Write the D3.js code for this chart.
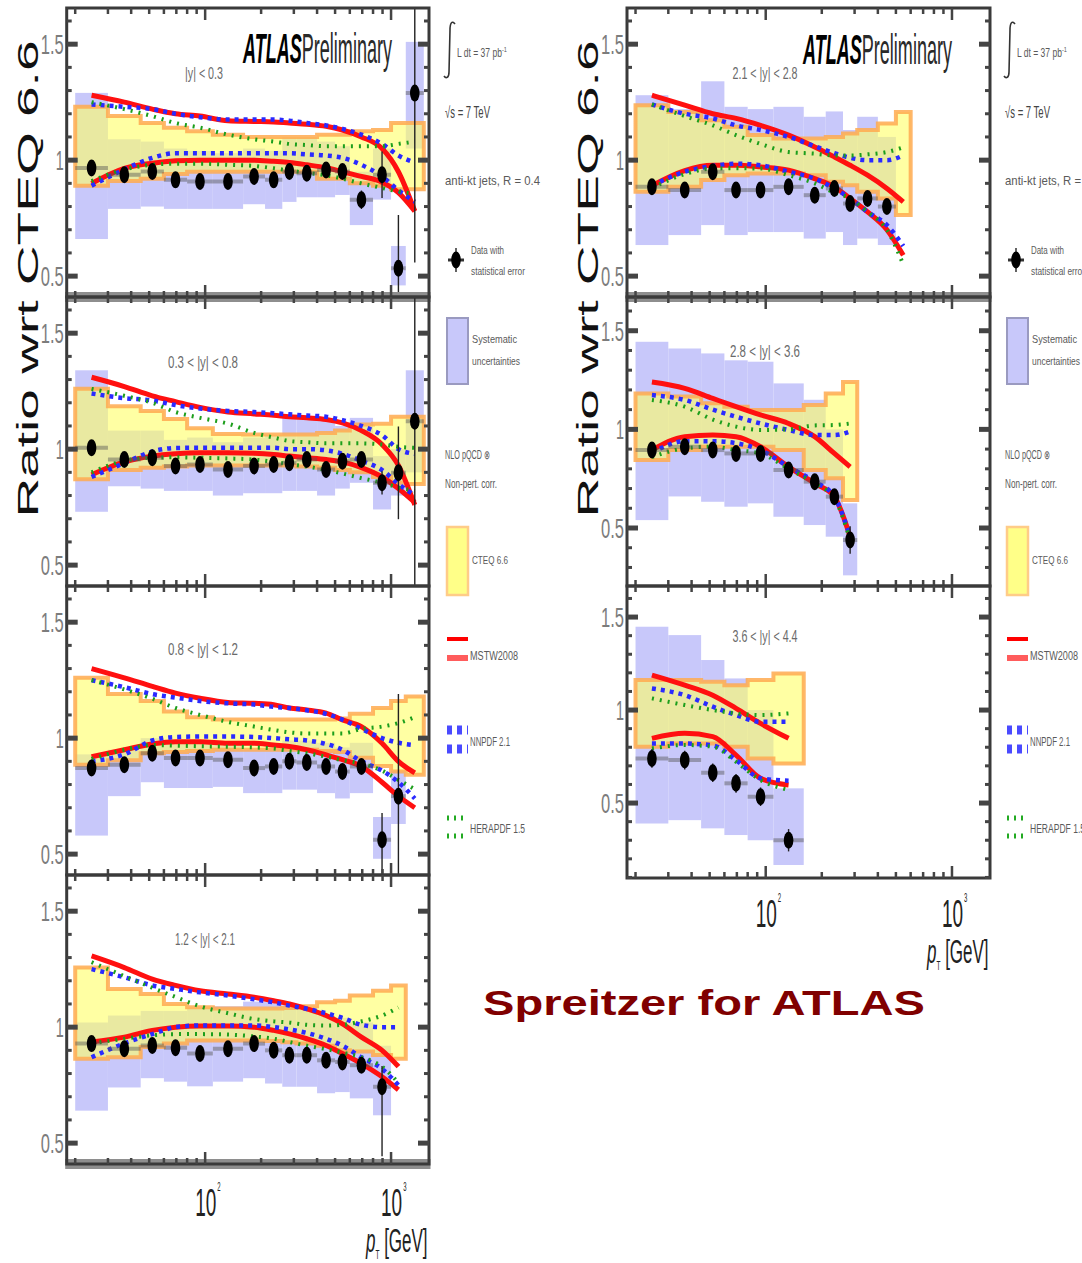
<!DOCTYPE html>
<html>
<head>
<meta charset="utf-8">
<script src="https://cdn.jsdelivr.net/npm/d3@7"></script>
<style>
body { margin:0; background:#fff; }
svg { display:block; font-family:"Liberation Sans", Arial, sans-serif; }
</style>
</head>
<body>
<svg id="chart" width="1082" height="1263"></svg>
<script>
//---------data---------
var binEdges = [20,30,45,60,80,110,160,210,260,310,400,500,600,800,1000,1200,1500];
var rapLabels = ["|y| < 0.3","0.3 < |y| < 0.8","0.8 < |y| < 1.2","1.2 < |y| < 2.1",
                 "2.1 < |y| < 2.8","2.8 < |y| < 3.6","3.6 < |y| < 4.4"];

// data / CTEQ 6.6, one list per rapidity bin
var ratio = [
  [0.966,0.937,0.951,0.915,0.908,0.908,0.93,0.915,0.951,0.944,0.958,0.951,0.829,0.937,0.534,1.289],
  [1.006,0.955,0.963,0.927,0.934,0.912,0.927,0.934,0.941,0.955,0.912,0.948,0.955,0.855,0.898,1.12],
  [0.871,0.885,0.935,0.914,0.914,0.907,0.871,0.878,0.90,0.895,0.878,0.856,0.878,0.562,0.75],
  [0.929,0.907,0.921,0.911,0.886,0.907,0.929,0.90,0.879,0.879,0.857,0.85,0.836,0.743],
  [0.885,0.871,0.95,0.871,0.871,0.885,0.849,0.878,0.813,0.835,0.80],
  [0.895,0.912,0.895,0.878,0.878,0.794,0.735,0.659,0.439],
  [0.74,0.731,0.663,0.606,0.534,0.30]
];
var statUp = [
  [0.03,0.025,0.025,0.025,0.025,0.025,0.025,0.025,0.025,0.025,0.03,0.03,0.04,0.1,0.23,0.8],
  [0.03,0.025,0.025,0.025,0.025,0.025,0.025,0.025,0.025,0.025,0.03,0.03,0.03,0.05,0.2,0.75],
  [0.03,0.025,0.025,0.025,0.025,0.025,0.025,0.025,0.025,0.025,0.03,0.03,0.03,0.115,0.44],
  [0.03,0.025,0.025,0.025,0.025,0.025,0.025,0.025,0.025,0.025,0.03,0.03,0.03,0.09],
  [0.03,0.03,0.03,0.03,0.03,0.03,0.03,0.03,0.03,0.03,0.03],
  [0.03,0.03,0.03,0.03,0.03,0.03,0.03,0.03,0.07],
  [0.05,0.05,0.05,0.05,0.05,0.06]
];
var statDn = [
  [0.03,0.025,0.025,0.025,0.025,0.025,0.025,0.025,0.025,0.025,0.03,0.03,0.04,0.1,0.3,0.73],
  [0.03,0.025,0.025,0.025,0.025,0.025,0.025,0.025,0.025,0.025,0.03,0.03,0.03,0.05,0.2,0.75],
  [0.03,0.025,0.025,0.025,0.025,0.025,0.025,0.025,0.025,0.025,0.03,0.03,0.03,0.2,0.45],
  [0.03,0.025,0.025,0.025,0.025,0.025,0.025,0.025,0.025,0.025,0.03,0.03,0.03,0.3],
  [0.03,0.03,0.03,0.03,0.03,0.03,0.03,0.03,0.03,0.03,0.03],
  [0.03,0.03,0.03,0.03,0.03,0.03,0.03,0.03,0.07],
  [0.05,0.05,0.05,0.05,0.05,0.06]
];
var sysLo = [
  [0.66,0.79,0.80,0.79,0.79,0.79,0.81,0.79,0.82,0.84,0.84,0.85,0.72,0.83,0.46,1.05],
  [0.73,0.84,0.83,0.82,0.82,0.80,0.81,0.81,0.82,0.82,0.80,0.83,0.855,0.74,0.80,0.90],
  [0.58,0.75,0.81,0.785,0.785,0.79,0.763,0.763,0.778,0.778,0.763,0.74,0.763,0.48,0.63],
  [0.64,0.74,0.78,0.765,0.745,0.765,0.78,0.757,0.743,0.743,0.715,0.72,0.693,0.62],
  [0.634,0.677,0.72,0.677,0.69,0.69,0.662,0.69,0.634,0.662,0.634],
  [0.54,0.66,0.633,0.608,0.625,0.557,0.515,0.456,0.26],
  [0.39,0.408,0.364,0.328,0.30,0.167]
];
var sysHi = [
  [1.29,1.09,1.08,1.05,1.04,1.03,1.05,1.04,1.10,1.10,1.08,1.06,0.95,1.05,0.63,1.51],
  [1.34,1.08,1.08,1.04,1.05,1.03,1.05,1.06,1.135,1.135,1.135,1.10,1.135,0.97,1.0,1.34],
  [0.93,0.95,1.0,0.99,0.99,0.98,0.95,0.96,0.99,0.99,0.98,0.96,0.98,0.66,0.86],
  [1.02,1.05,1.07,1.07,1.08,1.09,1.11,1.11,1.10,1.08,1.05,1.04,1.02,0.92],
  [1.28,1.22,1.34,1.23,1.22,1.23,1.187,1.21,1.13,1.187,1.10],
  [1.444,1.41,1.385,1.35,1.343,1.233,1.15,1.0,0.625],
  [1.448,1.403,1.269,1.17,1.0,0.579]
];
// CTEQ 6.6 uncertainty band
var cteqLo = [
  [0.89,0.91,0.92,0.94,0.95,0.95,0.95,0.95,0.95,0.95,0.92,0.92,0.90,0.89,0.875,0.875],
  [0.87,0.91,0.92,0.925,0.93,0.93,0.93,0.93,0.93,0.925,0.92,0.91,0.90,0.88,0.855,0.85],
  [0.885,0.905,0.935,0.94,0.945,0.95,0.95,0.95,0.95,0.95,0.945,0.94,0.915,0.88,0.856,0.842],
  [0.864,0.87,0.914,0.93,0.943,0.943,0.943,0.94,0.935,0.93,0.92,0.90,0.895,0.88,0.864],
  [0.864,0.885,0.914,0.935,0.943,0.943,0.935,0.907,0.892,0.864,0.835,0.763],
  [0.845,0.895,0.912,0.912,0.912,0.895,0.794,0.752,0.642],
  [0.803,0.82,0.82,0.803,0.74,0.713]
];
var cteqHi = [
  [1.23,1.19,1.16,1.14,1.125,1.11,1.10,1.10,1.10,1.10,1.11,1.11,1.125,1.13,1.16,1.16],
  [1.26,1.185,1.165,1.13,1.09,1.065,1.063,1.063,1.063,1.063,1.07,1.08,1.106,1.11,1.14,1.14],
  [1.26,1.19,1.16,1.115,1.09,1.08,1.08,1.08,1.08,1.08,1.08,1.085,1.105,1.13,1.16,1.18],
  [1.257,1.165,1.143,1.10,1.086,1.08,1.08,1.08,1.083,1.09,1.107,1.114,1.136,1.157,1.18],
  [1.237,1.208,1.172,1.144,1.108,1.093,1.093,1.10,1.115,1.13,1.158,1.208],
  [1.182,1.166,1.132,1.115,1.098,1.098,1.123,1.182,1.24],
  [1.161,1.161,1.152,1.134,1.161,1.197]
];
// other PDF sets, upper and lower edge of their band
var mstwUp = [
  [1.28,1.25,1.22,1.20,1.19,1.17,1.167,1.165,1.16,1.155,1.146,1.13,1.10,1.05,0.95,0.78],
  [1.31,1.27,1.23,1.205,1.18,1.16,1.152,1.146,1.14,1.135,1.128,1.113,1.08,1.02,0.93,0.76],
  [1.30,1.26,1.223,1.194,1.172,1.154,1.15,1.144,1.13,1.122,1.108,1.079,1.05,0.978,0.90,0.85],
  [1.307,1.257,1.207,1.18,1.157,1.143,1.129,1.114,1.10,1.079,1.05,1.014,0.957,0.90,0.83],
  [1.28,1.237,1.2,1.18,1.15,1.108,1.057,1.014,0.978,0.935,0.878,0.82],
  [1.24,1.208,1.157,1.115,1.073,1.03,0.963,0.878,0.81],
  [1.188,1.134,1.08,1.009,0.928,0.848]
];
var mstwLo = [
  [0.90,0.965,0.987,0.997,1.0,1.0,1.0,0.995,0.99,0.98,0.967,0.95,0.93,0.905,0.86,0.78],
  [0.89,0.945,0.97,0.98,0.984,0.984,0.982,0.977,0.97,0.963,0.955,0.945,0.92,0.88,0.83,0.77],
  [0.92,0.95,0.975,0.985,0.985,0.978,0.978,0.97,0.964,0.95,0.928,0.907,0.878,0.81,0.75,0.70],
  [0.936,0.957,0.986,1.0,1.005,1.005,1.0,0.986,0.971,0.95,0.921,0.886,0.843,0.786,0.73],
  [0.89,0.955,0.978,0.978,0.971,0.957,0.92,0.885,0.835,0.777,0.70,0.59],
  [0.895,0.963,0.971,0.963,0.912,0.81,0.726,0.659,0.456],
  [0.848,0.875,0.857,0.758,0.633,0.597]
];
var nnpdfUp = [
  [1.24,1.23,1.22,1.20,1.185,1.175,1.175,1.175,1.17,1.16,1.15,1.135,1.11,1.07,1.02,0.99],
  [1.24,1.22,1.21,1.19,1.175,1.165,1.16,1.155,1.15,1.145,1.14,1.125,1.10,1.06,1.0,0.98],
  [1.25,1.22,1.19,1.175,1.16,1.15,1.145,1.135,1.13,1.12,1.105,1.08,1.04,1.0,0.98,0.97],
  [1.25,1.215,1.18,1.165,1.15,1.136,1.12,1.107,1.093,1.079,1.06,1.04,1.01,1.0,1.0],
  [1.24,1.2,1.18,1.15,1.13,1.10,1.06,1.03,1.01,1.0,1.0,1.02],
  [1.174,1.149,1.1,1.064,1.03,0.997,0.971,0.971,0.99],
  [1.116,1.08,1.018,0.973,0.937,0.937]
];
var nnpdfLo = [
  [0.89,0.96,1.01,1.03,1.03,1.03,1.03,1.03,1.03,1.025,1.02,1.01,0.98,0.93,0.87,0.82],
  [0.88,0.94,0.99,1.005,1.006,1.006,1.006,1.006,1.0,1.0,0.995,0.98,0.95,0.91,0.85,0.80],
  [0.90,0.93,0.99,1.005,1.007,1.007,1.005,1.0,0.995,0.99,0.975,0.95,0.90,0.86,0.81,0.74],
  [0.87,0.93,0.97,1.0,1.007,1.007,1.007,1.0,0.99,0.975,0.95,0.92,0.87,0.82,0.75],
  [0.89,0.95,0.975,0.985,0.978,0.95,0.92,0.878,0.835,0.777,0.72,0.63],
  [0.88,0.94,0.94,0.93,0.895,0.81,0.735,0.659,0.456],
  [0.82,0.82,0.81,0.731,0.633,0.62]
];
var heraUp = [
  [1.25,1.22,1.19,1.16,1.14,1.11,1.09,1.08,1.07,1.065,1.06,1.06,1.06,1.06,1.07,1.08],
  [1.26,1.23,1.2,1.16,1.135,1.11,1.07,1.05,1.035,1.03,1.025,1.025,1.025,1.02,1.01,1.006],
  [1.25,1.21,1.17,1.13,1.10,1.07,1.05,1.035,1.025,1.02,1.02,1.02,1.04,1.05,1.065,1.09],
  [1.28,1.22,1.17,1.13,1.09,1.06,1.035,1.025,1.02,1.01,1.007,1.01,1.025,1.05,1.085],
  [1.24,1.19,1.15,1.108,1.07,1.035,1.028,1.02,1.02,1.025,1.035,1.055],
  [1.149,1.115,1.05,1.014,0.997,1.0,1.02,1.022,1.03],
  [1.063,1.027,1.0,0.982,0.973,0.982]
];
var heraLo = [
  [0.91,0.96,0.98,0.985,0.985,0.98,0.975,0.965,0.955,0.945,0.935,0.92,0.90,0.88,0.865,0.855],
  [0.90,0.95,0.963,0.965,0.963,0.96,0.955,0.945,0.935,0.925,0.91,0.895,0.875,0.855,0.835,0.82],
  [0.91,0.95,0.97,0.968,0.965,0.963,0.96,0.955,0.945,0.935,0.92,0.905,0.89,0.86,0.82,0.78],
  [0.93,0.95,0.965,0.97,0.97,0.968,0.96,0.95,0.936,0.92,0.905,0.89,0.87,0.83,0.76],
  [0.88,0.94,0.964,0.965,0.964,0.935,0.90,0.86,0.835,0.777,0.70,0.55],
  [0.86,0.904,0.912,0.895,0.878,0.8,0.726,0.65,0.44],
  [0.794,0.812,0.803,0.722,0.624,0.57]
];

//---------layout---------
var colX = [[66.7,429],[627,990]];
var panels = [
  {col:0, top:8,   bottom:297,  yDom:[0.41,1.656],  lx:204, ly:79,  lw:38, band:true},
  {col:0, top:297, bottom:586,  yDom:[0.41,1.656],  lx:203, ly:368, lw:70, band:false},
  {col:0, top:586, bottom:875,  yDom:[0.41,1.656],  lx:203, ly:655, lw:70, band:false},
  {col:0, top:875, bottom:1164, yDom:[0.41,1.656],  lx:205, ly:945, lw:60, band:true},
  {col:1, top:8,   bottom:297,  yDom:[0.41,1.656],  lx:765, ly:79,  lw:65, band:true},
  {col:1, top:297, bottom:586,  yDom:[0.206,1.671], lx:765, ly:357, lw:70, band:false},
  {col:1, top:586, bottom:878,  yDom:[0.097,1.667], lx:765, ly:642, lw:65, band:false}
];
var xTicks = [20,30,40,50,60,70,80,90,100,200,300,400,500,600,700,800,900,1000];

var svg = d3.select("#chart");
svg.append("rect").attr("width",1082).attr("height",1263).attr("fill","#fff");
var defs = svg.append("defs");

var center = function(i){ return Math.sqrt(binEdges[i]*binEdges[i+1]); };

var cText = function(parent, x, y, str, size, len, anchor){
  var t = parent.append("text")
    .attr("x",x).attr("y",y)
    .attr("font-size",size)
    .attr("text-anchor",anchor || "start")
    .text(str);
  if (len) t.attr("textLength",len).attr("lengthAdjust","spacingAndGlyphs");
  return t;
};

//---------panels---------
var drawPanel = function(p, k)
{
  var x0 = colX[p.col][0], x1 = colX[p.col][1];
  var xScale = d3.scaleLog().domain([18,1600]).range([x0,x1]);
  var yScale = d3.scaleLinear().domain(p.yDom).range([p.bottom,p.top]);

  defs.append("clipPath").attr("id","clip"+k)
    .append("rect").attr("x",x0).attr("y",p.top)
    .attr("width",x1-x0).attr("height",p.bottom-p.top);

  var g = svg.append("g").attr("clip-path","url(#clip"+k+")");

  // systematic boxes
  g.selectAll(".sys").data(d3.range(sysLo[k].length)).enter()
    .append("rect")
    .attr("x",function(i){ return xScale(binEdges[i]); })
    .attr("width",function(i){ return xScale(binEdges[i+1])-xScale(binEdges[i]); })
    .attr("y",function(i){ return yScale(sysHi[k][i]); })
    .attr("height",function(i){ return yScale(sysLo[k][i])-yScale(sysHi[k][i]); })
    .attr("fill","#c8c8fa");

  // CTEQ band as steps
  var n = cteqLo[k].length;
  var pts = [];
  for (var i = 0; i < n; i++) {
    pts.push([binEdges[i],cteqHi[k][i]]);
    pts.push([binEdges[i+1],cteqHi[k][i]]);
  }
  for (var j = n-1; j >= 0; j--) {
    pts.push([binEdges[j+1],cteqLo[k][j]]);
    pts.push([binEdges[j],cteqLo[k][j]]);
  }
  var bandLine = d3.line()
    .x(function(d){ return xScale(d[0]); })
    .y(function(d){ return yScale(d[1]); });
  g.append("path")
    .attr("d",bandLine(pts)+"Z")
    .attr("fill","#ffff66").attr("fill-opacity",0.6)
    .attr("stroke","#ffaa50").attr("stroke-width",4).attr("stroke-opacity",0.85);

  // PDF curves
  var curve = function(vals){
    return d3.line()
      .x(function(d,i){ return xScale(center(i)); })
      .y(function(d){ return yScale(d); })
      .curve(d3.curveMonotoneX)(vals);
  };
  [mstwUp[k],mstwLo[k]].forEach(function(v){
    g.append("path").attr("d",curve(v)).attr("fill","none")
      .attr("stroke","#ff1010").attr("stroke-width",5);
  });
  [nnpdfUp[k],nnpdfLo[k]].forEach(function(v){
    g.append("path").attr("d",curve(v)).attr("fill","none")
      .attr("stroke","#2a2aff").attr("stroke-width",4.5)
      .attr("stroke-dasharray","4,5");
  });
  [heraUp[k],heraLo[k]].forEach(function(v){
    g.append("path").attr("d",curve(v)).attr("fill","none")
      .attr("stroke","#1c9e1c").attr("stroke-width",4)
      .attr("stroke-dasharray","2,6");
  });

  // data points
  var pts2 = d3.range(ratio[k].length);
  g.selectAll(".hbar").data(pts2).enter().append("line")
    .attr("x1",function(i){ return xScale(binEdges[i]); })
    .attr("x2",function(i){ return xScale(binEdges[i+1]); })
    .attr("y1",function(i){ return yScale(ratio[k][i]); })
    .attr("y2",function(i){ return yScale(ratio[k][i]); })
    .attr("stroke","#555").attr("stroke-opacity",0.45).attr("stroke-width",4);
  g.selectAll(".vbar").data(pts2).enter().append("line")
    .attr("x1",function(i){ return xScale(center(i)); })
    .attr("x2",function(i){ return xScale(center(i)); })
    .attr("y1",function(i){ return yScale(ratio[k][i]+statUp[k][i]); })
    .attr("y2",function(i){ return yScale(ratio[k][i]-statDn[k][i]); })
    .attr("stroke","#222").attr("stroke-width",1.4);
  g.selectAll(".pt").data(pts2).enter().append("ellipse")
    .attr("cx",function(i){ return xScale(center(i)); })
    .attr("cy",function(i){ return yScale(ratio[k][i]); })
    .attr("rx",4.8).attr("ry",8.5).attr("fill","#000");

  // grey band under some panels
  if (p.band) {
    svg.append("rect").attr("x",x0-1.5).attr("y",p.bottom-5)
      .attr("width",x1-x0+3).attr("height",10).attr("fill","#8e8e8e");
  }

  // frame
  svg.append("rect").attr("x",x0).attr("y",p.top)
    .attr("width",x1-x0).attr("height",p.bottom-p.top)
    .attr("fill","none").attr("stroke","#3a3a3a").attr("stroke-width",3);

  // x ticks, top and bottom
  var ax = svg.append("g").attr("stroke","#444").attr("stroke-width",2.5);
  xTicks.forEach(function(t){
    var len = (t === 100 || t === 1000) ? 12 : 6;
    ax.append("line").attr("x1",xScale(t)).attr("x2",xScale(t))
      .attr("y1",p.top).attr("y2",p.top+len);
    ax.append("line").attr("x1",xScale(t)).attr("x2",xScale(t))
      .attr("y1",p.bottom).attr("y2",p.bottom-len);
  });

  // y ticks, left and right
  var start = Math.ceil(p.yDom[0]*10);
  var stop = Math.floor(p.yDom[1]*10);
  var labels = svg.append("g").attr("fill","#7c7c7c");
  for (var m = start; m <= stop; m++) {
    var v = m/10;
    var major = (m % 5 === 0);
    var yy = yScale(v);
    ax.append("line").attr("x1",x0).attr("x2",x0+(major?11:5))
      .attr("y1",yy).attr("y2",yy).attr("stroke-width",major?5:3);
    ax.append("line").attr("x1",x1).attr("x2",x1-(major?11:5))
      .attr("y1",yy).attr("y2",yy).attr("stroke-width",major?5:3);
    if (major) {
      var s = (m % 10 === 0) ? String(v) : v.toFixed(1);
      cText(labels, x0-3, yy+10, s, 28, s.length === 1 ? 8 : 23, "end");
    }
  }

  // rapidity label
  cText(svg.append("g").attr("fill","#6a6a6a"), p.lx, p.ly, rapLabels[k], 17, p.lw, "middle");
};

panels.forEach(drawPanel);

//---------axis titles---------
[38, 598].forEach(function(x){
  svg.append("text")
    .attr("transform","translate("+x+",279) rotate(-90)")
    .attr("text-anchor","middle").attr("font-size",29).attr("fill","#111")
    .attr("textLength",477).attr("lengthAdjust","spacingAndGlyphs")
    .text("Ratio wrt CTEQ 6.6");
});

var drawXLabels = function(col, base){
  var xScale = d3.scaleLog().domain([18,1600]).range(colX[col]);
  var g = svg.append("g").attr("fill","#222");
  [[100,"2"],[1000,"3"]].forEach(function(d){
    var xx = xScale(d[0]);
    var t = g.append("text")
      .attr("transform","translate("+(xx-10)+","+base+") scale(0.5,1)")
      .attr("font-size",38);
    t.append("tspan").text("10");
    t.append("tspan").attr("font-size",12).attr("dy",-25).attr("dx",2).text(d[1]);
  });
  var right = colX[col][1];
  var tt = g.append("text")
    .attr("transform","translate("+(right-63)+","+(base+36)+") scale(0.5,1)")
    .attr("font-size",34);
  tt.append("tspan").attr("font-style","italic").text("p");
  tt.append("tspan").attr("font-size",13).attr("dy",7).text("T");
  tt.append("tspan").attr("dy",-7).text(" [GeV]");
};
drawXLabels(0, 1216);
drawXLabels(1, 927);

//---------ATLAS Preliminary---------
[[243,63],[803,64]].forEach(function(d){
  var t = svg.append("text")
    .attr("x",d[0]).attr("y",d[1]).attr("font-size",42)
    .attr("textLength",149).attr("lengthAdjust","spacingAndGlyphs");
  t.append("tspan").attr("font-weight","bold").attr("font-style","italic")
    .attr("fill","#000").text("ATLAS");
  t.append("tspan").attr("fill","#2a2a2a").text("Preliminary");
});

//---------legend---------
var drawLegend = function(x0){
  var g = svg.append("g").attr("fill","#5a5a5a");
  // integral sign
  g.append("path")
    .attr("d","M"+(x0+10)+",24 C"+(x0+7)+",20 "+(x0+5)+",23 "+(x0+5)+",30 L"+(x0+4)+",72 C"+(x0+4)+",78 "+(x0+1)+",79 "+(x0-1)+",76")
    .attr("fill","none").attr("stroke","#333").attr("stroke-width",1.6);
  var lum = g.append("text").attr("x",x0+12).attr("y",57).attr("font-size",12)
    .attr("textLength",50).attr("lengthAdjust","spacingAndGlyphs");
  lum.append("tspan").text("L dt = 37 pb");
  lum.append("tspan").attr("font-size",8).attr("dy",-5).text("-1");
  cText(g, x0, 118, "\u221As = 7 TeV", 16, 45).attr("fill","#444");
  cText(g, x0, 185, "anti-kt jets, R = 0.4", 13, 95);

  // data marker
  g.append("line").attr("x1",x0+3).attr("x2",x0+19).attr("y1",260).attr("y2",260)
    .attr("stroke","#333").attr("stroke-width",3);
  g.append("line").attr("x1",x0+11).attr("x2",x0+11).attr("y1",248).attr("y2",272)
    .attr("stroke","#222").attr("stroke-width",1.4);
  g.append("ellipse").attr("cx",x0+11).attr("cy",260).attr("rx",4.8).attr("ry",8.5).attr("fill","#000");
  cText(g, x0+26, 254, "Data with", 11, 33);
  cText(g, x0+26, 275, "statistical error", 11, 54);

  // systematic
  g.append("rect").attr("x",x0+2).attr("y",318).attr("width",21).attr("height",66)
    .attr("fill","#c8c8fa").attr("stroke","#9a9ac0").attr("stroke-width",2);
  cText(g, x0+27, 343, "Systematic", 11, 45);
  cText(g, x0+27, 365, "uncertainties", 11, 48);

  cText(g, x0, 459, "NLO pQCD \u2297", 12, 45);
  cText(g, x0, 488, "Non-pert. corr.", 12, 52);

  // CTEQ 6.6
  g.append("rect").attr("x",x0+2).attr("y",527).attr("width",21).attr("height",68)
    .attr("fill","#ffff88").attr("stroke","#ffcc88").attr("stroke-width",2.5);
  cText(g, x0+27, 564, "CTEQ 6.6", 11, 36);

  // MSTW2008
  g.append("line").attr("x1",x0+2).attr("x2",x0+23).attr("y1",639).attr("y2",639)
    .attr("stroke","#ff0000").attr("stroke-width",4);
  g.append("line").attr("x1",x0+2).attr("x2",x0+23).attr("y1",658).attr("y2",658)
    .attr("stroke","#ff5c5c").attr("stroke-width",6);
  cText(g, x0+25, 660, "MSTW2008", 12, 48);

  // NNPDF 2.1
  [730,749].forEach(function(yy){
    g.append("line").attr("x1",x0+2).attr("x2",x0+23).attr("y1",yy).attr("y2",yy)
      .attr("stroke","#4a4aff").attr("stroke-width",9).attr("stroke-dasharray","5,5");
  });
  cText(g, x0+25, 746, "NNPDF 2.1", 12, 40);

  // HERAPDF 1.5
  [818,836].forEach(function(yy){
    g.append("line").attr("x1",x0+2).attr("x2",x0+23).attr("y1",yy).attr("y2",yy)
      .attr("stroke","#22aa22").attr("stroke-width",5).attr("stroke-dasharray","2,5");
  });
  cText(g, x0+25, 833, "HERAPDF 1.5", 12, 55);
};
drawLegend(445);
drawLegend(1005);

//---------credit---------
cText(svg, 483, 1015, "Spreitzer for ATLAS", 35, 442)
  .attr("font-weight","bold").attr("fill","#800000");
</script>
</body>
</html>
